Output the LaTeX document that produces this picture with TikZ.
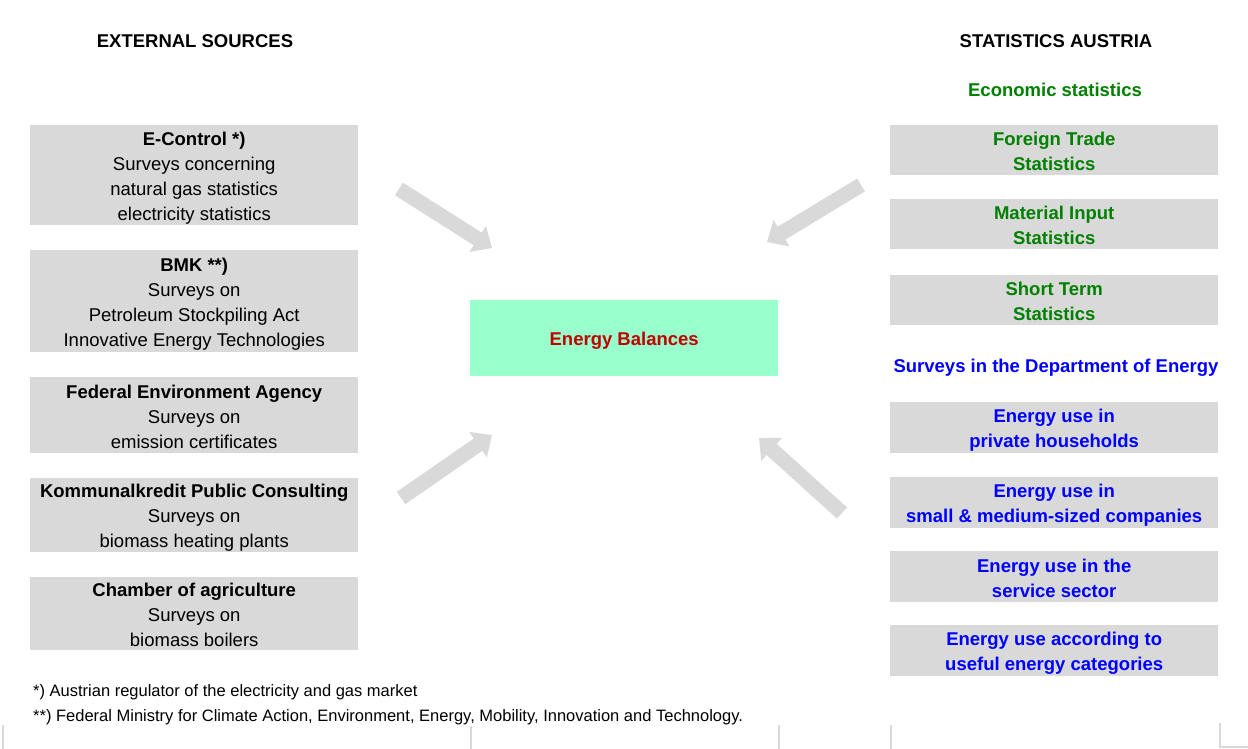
\documentclass[tikz,border=0pt]{standalone}
\usepackage{fontspec}
\setmainfont{Liberation Sans}
\usetikzlibrary{arrows.meta}
\definecolor{boxgray}{HTML}{D9D9D9}
\definecolor{mint}{HTML}{99FFCC}
\definecolor{darkred}{HTML}{C00000}
\definecolor{ecogreen}{HTML}{008000}
\definecolor{surveyblue}{HTML}{0000FF}
\newcommand\bs{\rule[-3.7pt]{0pt}{23pt}}
\begin{document}
\begin{tikzpicture}[x=1pt,y=-1pt,
  box/.style={fill=boxgray, minimum width=328pt, inner sep=0pt, align=center,
    font=\fontsize{18.5}{25}\selectfont, anchor=north west},
  greenbox/.style={box, text=ecogreen, font=\fontsize{18.5}{25}\selectfont\bfseries},
  bluebox/.style={box, text=surveyblue, font=\fontsize{18.5}{25}\selectfont\bfseries},
  heading/.style={font=\fontsize{18.5}{25}\selectfont\bfseries, inner sep=0pt},
  footnote/.style={font=\fontsize{16.5}{20}\selectfont, anchor=west, inner sep=0pt},
  bigarrow/.style={draw=boxgray, line width=15pt, -{Triangle[length=17pt,width=30pt]}},
  tickline/.style={draw=boxgray, line width=1.5pt}
]
\useasboundingbox (0,0) rectangle (1248,749);

% headings
\node[heading] (hext) at (195,41) {EXTERNAL SOURCES};
\node[heading] (hstat) at (1056,41) {STATISTICS AUSTRIA};
\node[heading, text=ecogreen] (heco) at (1055,90) {Economic statistics};
\node[heading, text=surveyblue] (hsurv) at (1056,368) {Surveys in the Department of Energy};

% left boxes
\node[box, minimum height=100pt] (econtrol) at (30,125)
  {\bs\textbf{E-Control *)}\\Surveys concerning\\natural gas statistics\\electricity statistics\bs};
\node[box, minimum height=102pt] (bmk) at (30,250)
  {\bs\textbf{BMK **)}\\Surveys on\\Petroleum Stockpiling Act\\Innovative Energy Technologies\bs};
\node[box, minimum height=76pt] (fea) at (30,377)
  {\bs\textbf{Federal Environment Agency}\\Surveys on\\emission certificates\bs};
\node[box, minimum height=74pt] (kpc) at (30,478)
  {\bs\textbf{Kommunalkredit Public Consulting}\\Surveys on\\biomass heating plants\bs};
\node[box, minimum height=73pt] (coa) at (30,577)
  {\bs\textbf{Chamber of agriculture}\\Surveys on\\biomass boilers\bs};

% centre
\node[box, fill=mint, minimum width=308pt, minimum height=76pt,
  text=darkred, font=\fontsize{18.5}{25}\selectfont\bfseries]
  (eb) at (470,300) {\bs Energy Balances\bs};

% right boxes
\node[greenbox, minimum height=50pt] (fts) at (890,125) {\bs Foreign Trade\\Statistics\bs};
\node[greenbox, minimum height=50pt] (mis) at (890,199) {\bs Material Input\\Statistics\bs};
\node[greenbox, minimum height=50pt] (sts) at (890,275) {\bs Short Term\\Statistics\bs};
\node[bluebox, minimum height=51pt] (eph) at (890,402) {\bs Energy use in\\private households\bs};
\node[bluebox, minimum height=51pt] (esm) at (890,477) {\bs Energy use in\\small \& medium-sized companies\bs};
\node[bluebox, minimum height=51pt] (ess) at (890,551) {\bs Energy use in the\\service sector\bs};
\node[bluebox, minimum height=51pt] (eue) at (890,625) {\bs Energy use according to\\useful energy categories\bs};

% arrows
\coordinate (a1s) at (399,189);
\coordinate (a1e) at (492,248);
\coordinate (a2s) at (861,185);
\coordinate (a2e) at (767,242);
\coordinate (a3s) at (401,498);
\coordinate (a3e) at (492,435);
\coordinate (a4s) at (842,513);
\coordinate (a4e) at (759,438);
\draw[bigarrow] (a1s) -- (a1e);
\draw[bigarrow] (a2s) -- (a2e);
\draw[bigarrow] (a3s) -- (a3e);
\draw[bigarrow] (a4s) -- (a4e);

% footnotes
\node[footnote] (fn1) at (33,692) {*) Austrian regulator of the electricity and gas market};
\node[footnote] (fn2) at (33,717) {**) Federal Ministry for Climate Action, Environment, Energy, Mobility, Innovation and Technology.};

% bottom tick lines
\draw[tickline] (3,725) -- (3,749);
\draw[tickline] (471,726) -- (471,749);
\draw[tickline] (779,725) -- (779,749);
\draw[tickline] (891,725) -- (891,749);
\draw[tickline] (1220,723) -- (1220,747) -- (1248,747);
\end{tikzpicture}
\end{document}
